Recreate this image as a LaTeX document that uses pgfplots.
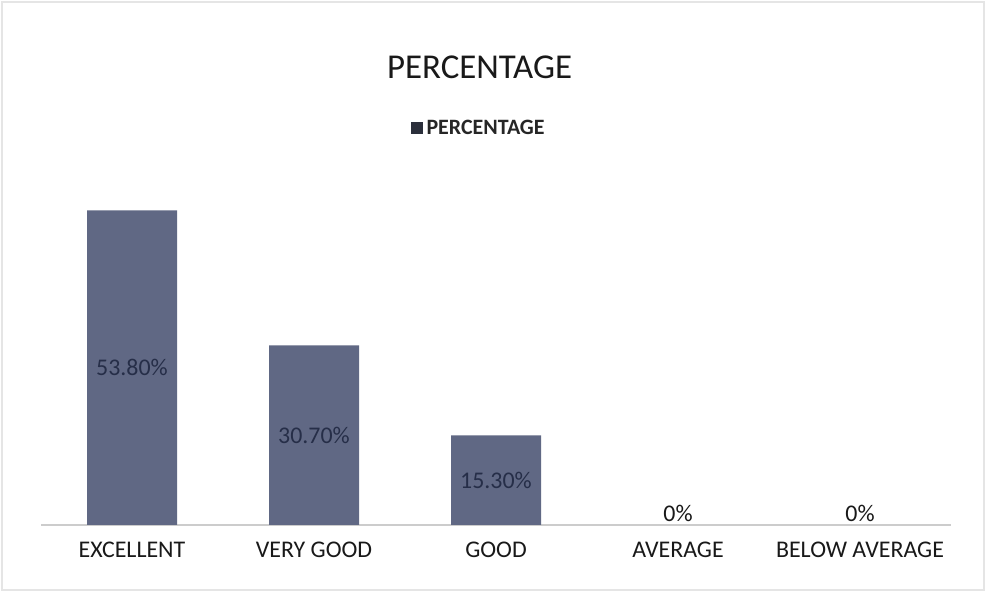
\documentclass[border=0pt]{standalone}
\usepackage{pgfplots}
\pgfplotsset{compat=1.18}
\usepackage{fontspec}
\setmainfont{Carlito}
\definecolor{barcol}{RGB}{96,104,132}
\definecolor{lblcol}{RGB}{38,46,72}
\begin{document}
\begin{tikzpicture}
\fill[white] (0,0) rectangle (493bp,296bp);
\draw[black!10, line width=0.6bp] (1bp,1bp) rectangle (492bp,295bp);
\begin{axis}[
  at={(20.5bp,33.5bp)}, anchor=south west,
  scale only axis, width=455bp, height=175.5bp,
  xmin=-0.5, xmax=4.5, ymin=0, ymax=60,
  axis y line=none, axis x line=bottom,
  x axis line style={-, draw=black!20, line width=0.6bp},
  major tick length=0pt,
  xtick={0,1,2,3,4},
  xticklabels={EXCELLENT, VERY GOOD, GOOD, AVERAGE, BELOW AVERAGE},
  xticklabel style={font=\fontsize{12}{14}\selectfont, text=black!90, yshift=-5bp},
  title={PERCENTAGE},
  title style={at={(0.482,1.27)}, anchor=center, font=\fontsize{17.5}{20}\selectfont, text=black!90},
  legend style={at={(0.482,1.13)}, anchor=center, draw=none, fill=none,
    font=\fontsize{11}{13}\selectfont\bfseries, text=black!85},
  legend image code/.code={\fill[barcol!45!black] (0bp,-3bp) rectangle (6bp,3bp);},
]
\addplot[ybar, bar width=45bp, fill=barcol, draw=none] coordinates {(0,53.8) (1,30.7) (2,15.3) (3,0) (4,0)};
\addlegendentry{PERCENTAGE}
\addplot[forget plot, draw=none, mark=none, nodes near coords, point meta=explicit symbolic,
  nodes near coords style={anchor=center, font=\fontsize{12}{14}\selectfont, text=lblcol}]
  coordinates {(0,26.9)[53.80\%] (1,15.35)[30.70\%] (2,7.65)[15.30\%]};
\addplot[forget plot, draw=none, mark=none, nodes near coords, point meta=explicit symbolic,
  nodes near coords style={anchor=center, yshift=6bp, font=\fontsize{12}{14}\selectfont, text=black!90}]
  coordinates {(3,0)[0\%] (4,0)[0\%]};
\end{axis}
\end{tikzpicture}
\end{document}
